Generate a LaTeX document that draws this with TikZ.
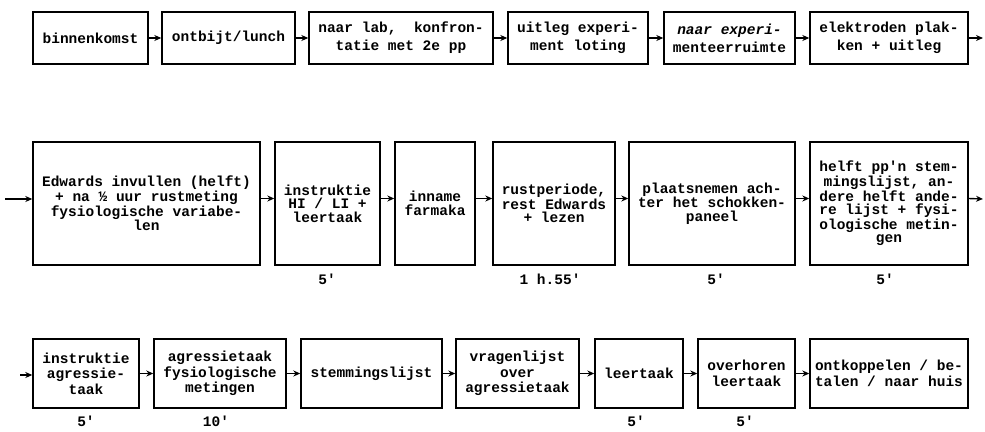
\documentclass[tikz,border=0pt]{standalone}
\usepackage{fontspec}
\setmonofont{Liberation Mono}
\usetikzlibrary{arrows.meta}
\begin{document}
\begin{tikzpicture}[x=1pt,y=-1pt,
  box/.style={draw, line width=1.4pt, inner sep=0pt, align=center, font=\ttfamily\bfseries\fontsize{14.5}{16}\selectfont},
  rowa/.style={box, minimum height=52pt, font=\ttfamily\bfseries\fontsize{14.5}{18}\selectfont},
  rowb/.style={box, minimum height=123pt, font=\ttfamily\bfseries\fontsize{14.5}{13.5}\selectfont},
  rowc/.style={box, minimum height=69pt, font=\ttfamily\bfseries\fontsize{14.5}{15.5}\selectfont},
  lbl/.style={inner sep=0pt, font=\ttfamily\bfseries\fontsize{14.5}{16}\selectfont},
  arr/.style={line width=1.4pt, -{Stealth[length=7pt,width=6pt]}}]
\useasboundingbox (0,0) rectangle (985,431);
% row 1
\node[rowa, minimum width=115pt] (b1) at (90.5,38) {binnenkomst};
\node[rowa, minimum width=133pt] (b2) at (228.5,38) {ontbijt/lunch};
\node[rowa, minimum width=184pt] (b3) at (401,38) {naar lab,~~konfron-\\tatie met 2e pp};
\node[rowa, minimum width=140pt] (b4) at (578,38) {uitleg experi-\\ment loting};
\node[rowa, minimum width=131pt] (b5) at (729.5,38) {\itshape naar experi-\\menteerruimte};
\node[rowa, minimum width=158pt] (b6) at (889,38) {elektroden plak-\\ken + uitleg};
\coordinate (e1) at (983,38);
% row 2
\coordinate (s2) at (5,199);
\node[rowb, minimum width=227pt] (c1) at (146.5,203.5) {Edwards invullen (helft)\\+ na ½ uur rustmeting\\fysiologische variabe-\\len};
\node[rowb, minimum width=105pt] (c2) at (327.5,203.5) {instruktie\\HI / LI +\\leertaak};
\node[rowb, minimum width=80pt] (c3) at (435,203.5) {inname\\farmaka};
\node[rowb, minimum width=122pt] (c4) at (554,203.5) {rustperiode,\\rest Edwards\\+ lezen};
\node[rowb, minimum width=166pt] (c5) at (712,203.5) {plaatsnemen ach-\\ter het schokken-\\paneel};
\node[rowb, minimum width=158pt] (c6) at (889,203.5) {helft pp'n stem-\\mingslijst, an-\\dere helft ande-\\re lijst + fysi-\\ologische metin-\\gen};
\coordinate (e2) at (983,199);
\node[lbl] (l1) at (327,279) {5'};
\node[lbl] (l2) at (550,279) {1 h.55'};
\node[lbl] (l3) at (716,279) {5'};
\node[lbl] (l4) at (885,279) {5'};
% row 3
\coordinate (s3) at (20,375);
\node[rowc, minimum width=106pt] (d1) at (86,373.5) {instruktie\\agressie-\\taak};
\node[rowc, minimum width=132pt] (d2) at (220,373.5) {agressietaak\\fysiologische\\metingen};
\node[rowc, minimum width=141pt] (d3) at (371.5,373.5) {stemmingslijst};
\node[rowc, minimum width=123pt] (d4) at (517.5,373.5) {vragenlijst\\over\\agressietaak};
\node[rowc, minimum width=88pt] (d5) at (639,373.5) {leertaak};
\node[rowc, minimum width=97pt] (d6) at (746.5,373.5) {overhoren\\leertaak};
\node[rowc, minimum width=158pt] (d7) at (889,373.5) {ontkoppelen / be-\\talen / naar huis};
\node[lbl] (m1) at (86,421) {5'};
\node[lbl] (m2) at (216,421) {10'};
\node[lbl] (m3) at (636,421) {5'};
\node[lbl] (m4) at (745,421) {5'};
% arrows
\draw[arr] (b1) -- (b2);
\draw[arr] (b2) -- (b3);
\draw[arr] (b3) -- (b4);
\draw[arr] (b4) -- (b5);
\draw[arr] (b5) -- (b6);
\draw[arr] (b6.east) -- (e1);
\draw[arr] (s2) -- (c1.west |- s2);
\draw[arr] ([yshift=5pt]c1.east) -- ([yshift=5pt]c2.west);
\draw[arr] ([yshift=5pt]c2.east) -- ([yshift=5pt]c3.west);
\draw[arr] ([yshift=5pt]c3.east) -- ([yshift=5pt]c4.west);
\draw[arr] ([yshift=5pt]c4.east) -- ([yshift=5pt]c5.west);
\draw[arr] ([yshift=5pt]c5.east) -- ([yshift=5pt]c6.west);
\draw[arr] ([yshift=5pt]c6.east) -- (e2);
\draw[arr] (s3) -- (d1.west |- s3);
\draw[arr] (d1) -- (d2);
\draw[arr] (d2) -- (d3);
\draw[arr] (d3) -- (d4);
\draw[arr] (d4) -- (d5);
\draw[arr] (d5) -- (d6);
\draw[arr] (d6) -- (d7);
\end{tikzpicture}
\end{document}
